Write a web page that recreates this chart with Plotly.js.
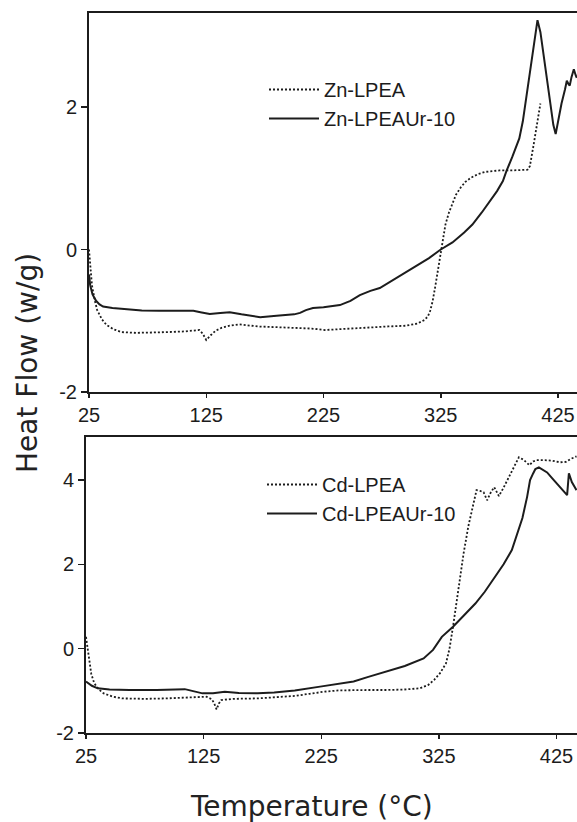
<!DOCTYPE html>
<html>
<head>
<meta charset="utf-8">
<script src="https://cdn.plot.ly/plotly-3.0.1.min.js"></script>
<style>html,body{margin:0;padding:0;background:#fff;}#chart{width:577px;height:822px;}</style>
</head>
<body>
<div id="chart"></div>
<script>
// ---- Data ----
const xTicks = [25, 125, 225, 325, 425];
const xTickLabels = ["25", "125", "225", "325", "425"];

const znLpeaX = [25, 26, 27.5, 30, 32, 36, 40, 46, 53, 65, 75, 90, 106, 119, 122, 125, 129, 133, 138, 145, 153, 160, 169, 185, 200, 215, 226, 245, 263, 280, 295, 305, 311, 314, 316, 318, 320, 323, 326, 329, 332, 335, 338, 342, 346, 351, 357, 363, 367, 375, 385, 395, 399, 401, 402, 404, 406, 408, 410];
const znLpeaY = [0.0, -0.25, -0.5, -0.72, -0.85, -0.98, -1.06, -1.12, -1.16, -1.17, -1.17, -1.16, -1.15, -1.13, -1.18, -1.27, -1.2, -1.14, -1.10, -1.07, -1.05, -1.06, -1.08, -1.09, -1.10, -1.11, -1.13, -1.11, -1.09, -1.08, -1.07, -1.04, -0.99, -0.94, -0.86, -0.73, -0.55, -0.25, 0.1, 0.35, 0.52, 0.66, 0.77, 0.87, 0.95, 1.01, 1.06, 1.09, 1.10, 1.11, 1.11, 1.11, 1.12, 1.17, 1.25, 1.45, 1.65, 1.88, 2.05];

const znUrX = [25, 26, 28, 31, 34, 37, 45, 57, 70, 85, 100, 114, 120, 128, 137, 145, 155, 165, 171, 185, 200, 205, 210, 216, 225, 239, 248, 256, 265, 273, 285, 301, 315, 325, 335, 345, 352, 360, 367, 373, 378, 381, 386, 392, 395, 398, 402, 405, 407.5, 410, 413, 416, 419, 421, 423, 425, 428, 431, 432.5, 434, 435, 436.5, 438.5, 440, 441];
const znUrY = [-0.35, -0.5, -0.63, -0.72, -0.77, -0.8, -0.82, -0.84, -0.855, -0.86, -0.865, -0.86, -0.88, -0.905, -0.89, -0.88, -0.91, -0.94, -0.95, -0.93, -0.91, -0.89, -0.85, -0.82, -0.81, -0.78, -0.72, -0.64, -0.58, -0.54, -0.42, -0.27, -0.12, 0.0, 0.1, 0.24, 0.35, 0.52, 0.68, 0.82, 0.96, 1.10, 1.30, 1.56, 1.8, 2.13, 2.6, 2.95, 3.22, 3.05, 2.7, 2.3, 1.95, 1.75, 1.62, 1.8, 2.05, 2.25, 2.37, 2.32, 2.30, 2.42, 2.53, 2.45, 2.41];

const cdLpeaX = [25, 26, 27.5, 29.5, 32, 36, 40, 48, 56, 75, 93, 110, 127.5, 132, 134, 136, 138, 140, 150, 171, 190, 202.5, 215, 227.5, 240, 249, 265, 280.6, 295, 309, 316, 321, 326, 331, 334, 337, 340, 343, 346, 350, 354, 357, 360, 363, 366, 369, 372, 374, 376, 380, 385, 389, 393, 397, 402, 405, 408, 415, 421, 428, 433, 437, 442];
const cdLpeaY = [0.28, 0.1, -0.27, -0.6, -0.82, -0.97, -1.06, -1.14, -1.18, -1.19, -1.18, -1.16, -1.14, -1.2, -1.3, -1.44, -1.3, -1.22, -1.19, -1.18, -1.15, -1.12, -1.07, -1.02, -0.99, -0.98, -0.98, -0.98, -0.97, -0.94, -0.86, -0.74, -0.58, -0.35, 0.0, 0.52, 1.1, 1.7, 2.26, 2.9, 3.44, 3.76, 3.74, 3.71, 3.52, 3.7, 3.83, 3.72, 3.62, 3.82, 4.1, 4.35, 4.54, 4.48, 4.35, 4.44, 4.47, 4.47, 4.46, 4.42, 4.43, 4.5, 4.56];

const cdUrX = [25, 30, 35, 45, 62, 85, 109, 116, 124, 133, 143, 155, 171, 185, 202.5, 224, 240, 252.5, 265, 280.6, 296, 312, 320, 327.5, 337, 346, 356, 364, 371, 380, 387, 392, 396, 400, 402.5, 405, 407, 410, 417, 421, 425, 430, 434, 435.5, 438, 442];
const cdUrY = [-0.78, -0.88, -0.94, -0.97, -0.98, -0.98, -0.96, -1.0, -1.06, -1.06, -1.02, -1.05, -1.06, -1.04, -0.99, -0.9, -0.84, -0.78, -0.67, -0.54, -0.41, -0.23, -0.03, 0.28, 0.52, 0.78, 1.07, 1.35, 1.63, 2.0, 2.34, 2.75, 3.1, 3.6, 4.0, 4.15, 4.26, 4.3, 4.18, 4.05, 3.92, 3.75, 3.64, 4.16, 3.95, 3.76];

// ---- Layout helpers (pixel -> paper) ----
const W = 577, H = 822;
const px = v => v / W;
const py = v => 1 - v / H;
const ink = '#1c1c1c';
const tickFont = {family: 'Liberation Sans, Arial, sans-serif', size: 20, color: ink};
const legFont = {family: 'Liberation Sans, Arial, sans-serif', size: 20, color: ink};
const titleFont = {family: 'DejaVu Sans, sans-serif', size: 28, color: '#222'};

const dotted = {color: ink, width: 1.8, dash: '2px,2px'};
const solid = {color: ink, width: 2};

const traces = [
  {x: znLpeaX, y: znLpeaY, name: 'Zn-LPEA', mode: 'lines', line: dotted, xaxis: 'x', yaxis: 'y', legend: 'legend', legendgroup: 'a'},
  {x: znUrX, y: znUrY, name: 'Zn-LPEAUr-10', mode: 'lines', line: solid, xaxis: 'x', yaxis: 'y', legend: 'legend', legendgroup: 'b'},
  {x: cdLpeaX, y: cdLpeaY, name: 'Cd-LPEA', mode: 'lines', line: dotted, xaxis: 'x2', yaxis: 'y2', legend: 'legend2', legendgroup: 'c'},
  {x: cdUrX, y: cdUrY, name: 'Cd-LPEAUr-10', mode: 'lines', line: solid, xaxis: 'x2', yaxis: 'y2', legend: 'legend2', legendgroup: 'd'}
];

const axisCommon = {
  showline: true, linecolor: ink, linewidth: 2, ticks: 'outside', tickcolor: ink,
  tickwidth: 1.5, showgrid: false, zeroline: false, tickfont: tickFont, fixedrange: true
};

const layout = {
  width: W, height: H,
  margin: {l: 0, r: 0, t: 0, b: 0},
  paper_bgcolor: '#fff', plot_bgcolor: '#fff',
  xaxis: Object.assign({}, axisCommon, {domain: [px(89), 1], range: [25, 441.2], tickvals: xTicks, ticktext: xTickLabels, ticklen: 4, mirror: true, anchor: 'y'}),
  yaxis: Object.assign({}, axisCommon, {domain: [py(392), py(13)], range: [-2, 3.32], tickvals: [-2, 0, 2], ticktext: ['-2', '0', '2'], ticklen: 6, anchor: 'x'}),
  xaxis2: Object.assign({}, axisCommon, {domain: [px(86), 1], range: [25, 442.4], tickvals: xTicks, ticktext: xTickLabels, ticklen: 4, mirror: true, anchor: 'y2'}),
  yaxis2: Object.assign({}, axisCommon, {domain: [py(733), py(437)], range: [-2, 5.02], tickvals: [-2, 0, 2, 4], ticktext: ['-2', '0', '2', '4'], ticklen: 6, anchor: 'x2'}),
  showlegend: true,
  legend: {x: px(264), y: py(70), xanchor: 'left', yanchor: 'top', font: legFont, bgcolor: 'rgba(0,0,0,0)', itemwidth: 50, tracegroupgap: 3, traceorder: 'normal'},
  legend2: {x: px(262), y: py(465), xanchor: 'left', yanchor: 'top', font: legFont, bgcolor: 'rgba(0,0,0,0)', itemwidth: 50, tracegroupgap: 6, traceorder: 'normal'},
  annotations: [
    {text: 'Heat Flow (w/g)', xref: 'paper', yref: 'paper', x: px(27), y: py(363), textangle: -90, showarrow: false, font: titleFont, xanchor: 'center', yanchor: 'middle'},
    {text: 'Temperature (°C)', xref: 'paper', yref: 'paper', x: px(311), y: py(806), showarrow: false, font: titleFont, xanchor: 'center', yanchor: 'middle'}
  ]
};

Plotly.newPlot('chart', traces, layout, {displayModeBar: false, staticPlot: true});
</script>
</body>
</html>
